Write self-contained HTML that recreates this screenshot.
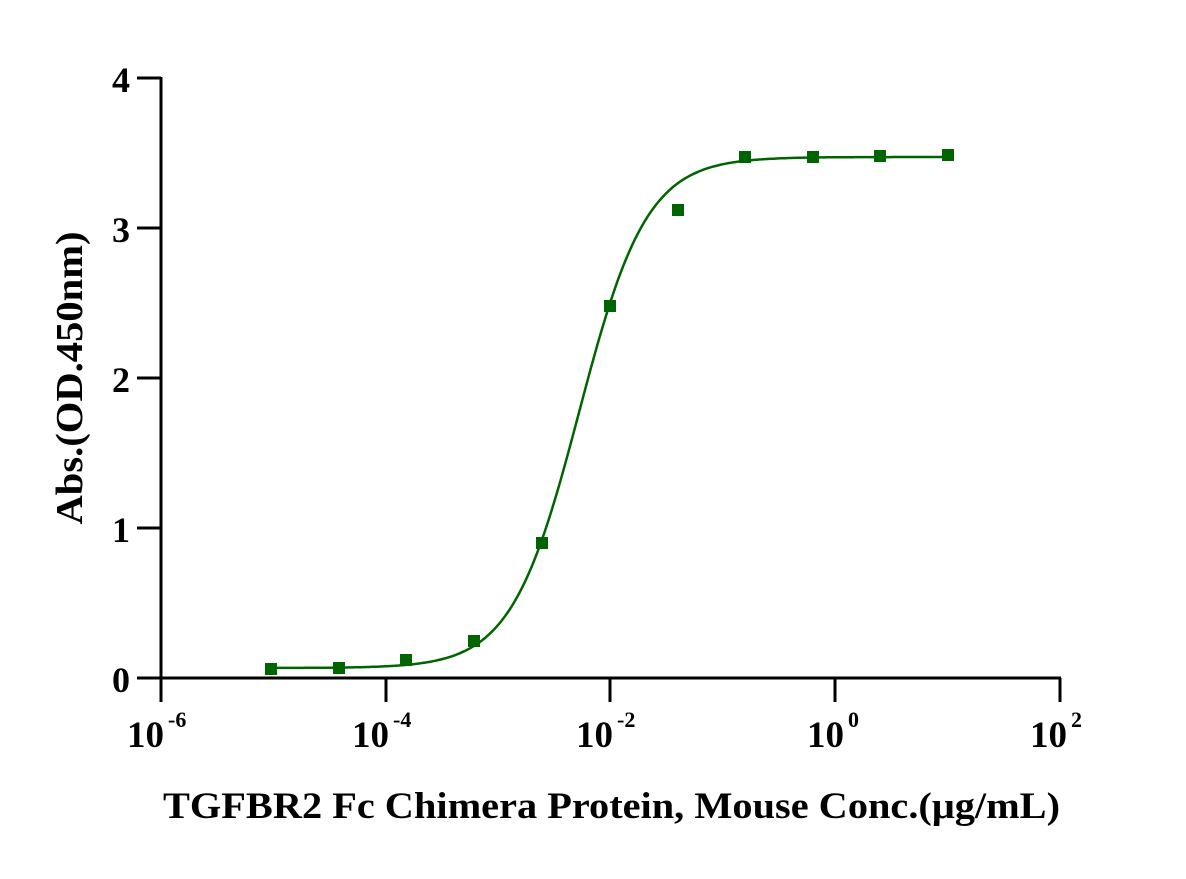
<!DOCTYPE html>
<html><head><style>
html,body{margin:0;padding:0;background:#fff;}
svg text{font-family:"Liberation Serif",serif;font-weight:bold;fill:#000;}
</style></head><body>
<svg id="s" width="1186" height="874" xmlns="http://www.w3.org/2000/svg">
<g stroke="#000" stroke-width="3" fill="none">
<line x1="161" y1="77" x2="161" y2="702"/>
<line x1="137" y1="678" x2="1061" y2="678"/>
<line x1="137" y1="78" x2="161" y2="78"/>
<line x1="137" y1="228" x2="161" y2="228"/>
<line x1="137" y1="378" x2="161" y2="378"/>
<line x1="137" y1="528" x2="161" y2="528"/>
<line x1="386" y1="678" x2="386" y2="702"/>
<line x1="610" y1="678" x2="610" y2="702"/>
<line x1="835" y1="678" x2="835" y2="702"/>
<line x1="1060" y1="678" x2="1060" y2="702"/>
</g>
<g font-size="36" text-anchor="end">
<text x="130" y="92">4</text>
<text x="130" y="242">3</text>
<text x="130" y="392">2</text>
<text x="130" y="542">1</text>
<text x="130" y="692">0</text>
</g>
<g font-size="37">
<text x="127" y="747">10<tspan font-size="22" dy="-20" dx="4">-6</tspan></text>
<text x="352" y="747">10<tspan font-size="22" dy="-20" dx="4">-4</tspan></text>
<text x="576" y="747">10<tspan font-size="22" dy="-20" dx="4">-2</tspan></text>
<text x="807" y="747">10<tspan font-size="22" dy="-20" dx="4">0</tspan></text>
<text x="1030" y="747">10<tspan font-size="22" dy="-20" dx="4">2</tspan></text>
</g>
<text x="163" y="818" font-size="37" textLength="897" lengthAdjust="spacingAndGlyphs">TGFBR2 Fc Chimera Protein, Mouse  Conc.(μg/mL)</text>
<text transform="translate(82,378) rotate(-90)" font-size="38" text-anchor="middle" textLength="293" lengthAdjust="spacingAndGlyphs">Abs.(OD.450nm)</text>
<path id="c" fill="none" stroke="#006400" stroke-width="2.5"/>
<g id="m" fill="#006400"></g>
</svg>
<script>
var pts=[[271,669],[339,668],[406,660],[474,641],[542,543],[610,306],[678,210],[745,157],[813,157],[880,156],[948,155]];
var g=document.getElementById('m'),h='';
pts.forEach(function(p){h+='<rect x="'+(p[0]-6)+'" y="'+(p[1]-6)+'" width="12" height="12"/>';});
g.innerHTML=h;
var yb=668,yt=157,xm=579,kk=0.0295,d='';
for(var x=271;x<=948;x+=2){var y=yb+(yt-yb)/(1+Math.exp(-(x-xm)*kk));d+=(x==271?'M':'L')+x+','+y.toFixed(1);}
document.getElementById('c').setAttribute('d',d);
</script>
</body></html>
